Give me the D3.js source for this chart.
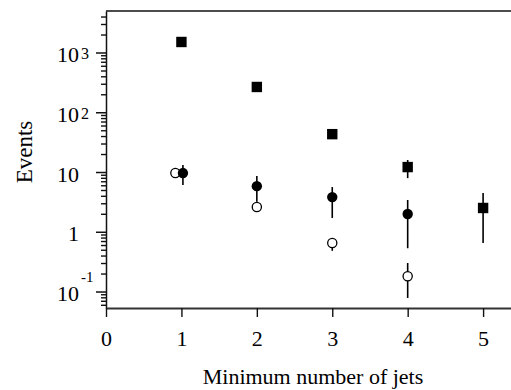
<!DOCTYPE html>
<html>
<head>
<meta charset="utf-8">
<script src="https://cdn.jsdelivr.net/npm/d3@7"></script>
<style>
  body { margin: 0; background: #fff; }
  svg { display: block; font-family: "Liberation Serif", "Times New Roman", serif; }
</style>
</head>
<body>
<div id="chart"></div>
<script>
// x tick values and y decade labels
let xTicks = [0, 1, 2, 3, 4, 5];
let yMajor = [0.1, 1, 10, 100, 1000];
let yLabels = [["10", "-1"], ["1", ""], ["10", ""], ["10", "2"], ["10", "3"]];

// filled squares
let sqX = [1, 2, 3, 4, 5];
let sqY = [1500, 265, 43, 12.1, 2.5];
let sqLo = [null, null, null, 7.9, 0.65];
let sqHi = [null, null, null, 15.9, 4.45];

// filled circles
let fcX = [1.02, 2, 3, 4];
let fcY = [9.6, 5.8, 3.8, 1.98];
let fcLo = [6.06, 3.2, 1.7, 0.53];
let fcHi = [13.1, 8.6, 5.6, 3.4];

// open circles
let ocX = [0.92, 2, 3, 4];
let ocY = [9.6, 2.6, 0.65, 0.18];
let ocLo = [null, 2.14, 0.48, 0.078];
let ocHi = [null, 3.2, 0.75, 0.30];

let width = 511;
let height = 390;
let margins = {top: 11, right: 0, bot: 82, left: 106};
let chartWidth = width - margins.left - margins.right;
let chartHeight = height - margins.top - margins.bot;

let svg = d3.select("#chart")
    .append("svg")
    .attr("width", width)
    .attr("height", height);
let g = svg.append("g")
    .attr("transform", "translate(" + margins.left + "," + margins.top + ")");

let xScale = d3.scaleLinear()
    .domain([0, 5.37])
    .range([0, chartWidth]);
let yScale = d3.scaleLog()
    .domain([0.053, 4950])
    .range([chartHeight, 0]);

// minor ticks 2..9 per decade
let yMinor = [];
[0.01, 0.1, 1, 10, 100, 1000].forEach(function (dec) {
    for (let k = 2; k <= 9; k++) {
        let v = k * dec;
        if (v >= yScale.domain()[0] && v <= yScale.domain()[1]) yMinor.push(v);
    }
});

g.append("g")
    .call(d3.axisLeft(yScale).tickValues(yMinor).tickSize(5).tickSizeOuter(0).tickFormat(""))
    .call(s => s.select(".domain").remove())
    .selectAll("line").attr("stroke", "#111").attr("stroke-width", 1.4);

let yAxis = g.append("g")
    .call(d3.axisLeft(yScale).tickValues(yMajor).tickSize(10).tickSizeOuter(0).tickFormat(""))
    .attr("font-family", null).attr("font-size", null);
yAxis.select(".domain").attr("stroke", "#111").attr("stroke-width", 1.5);
yAxis.selectAll("line").attr("stroke", "#111").attr("stroke-width", 1.5);
yAxis.selectAll(".tick text").remove();
yAxis.selectAll(".tick").each(function (d, i) {
    let t = d3.select(this);
    let lab = yLabels[i];
    t.append("text")
        .attr("x", -27)
        .attr("y", 9)
        .attr("text-anchor", "end")
        .attr("fill", "#000")
        .style("font-size", "22px")
        .text(lab[0]);
    if (lab[1] != "") {
        let neg = lab[1].startsWith("-");
        t.append("text")
            .attr("x", -25)
            .attr("y", neg ? -10 : 6)
            .attr("text-anchor", "start")
            .attr("fill", "#000")
            .style("font-size", neg ? "15px" : "16px")
            .text(lab[1]);
    }
});

// top frame line
g.append("line")
    .attr("x1", 0).attr("x2", chartWidth)
    .attr("y1", 0).attr("y2", 0)
    .attr("stroke", "#111").attr("stroke-width", 1.5);

let xAxis = g.append("g")
    .attr("transform", "translate(0," + chartHeight + ")")
    .call(d3.axisBottom(xScale).tickValues(xTicks).tickFormat(d3.format("d"))
        .tickSize(9).tickSizeOuter(0).tickPadding(13))
    .attr("font-family", null).attr("font-size", null);
xAxis.select(".domain").attr("stroke", "#333").attr("stroke-width", 2.2);
xAxis.selectAll("line").attr("stroke", "#111").attr("stroke-width", 1.4);
xAxis.selectAll("text").attr("fill", "#000").style("font-size", "22px");

// axis titles
svg.append("text")
    .attr("x", 313)
    .attr("y", 384)
    .attr("text-anchor", "middle")
    .style("font-size", "22px")
    .text("Minimum number of jets");
svg.append("text")
    .attr("transform", "translate(32,152) rotate(-90)")
    .attr("text-anchor", "middle")
    .style("font-size", "23px")
    .text("Events");

function series(xs, ys, lo, hi) {
    return xs.map((x, i) => ({x: x, y: ys[i], lo: lo[i], hi: hi[i]}));
}
let squares = series(sqX, sqY, sqLo, sqHi);
let filled = series(fcX, fcY, fcLo, fcHi);
let open = series(ocX, ocY, ocLo, ocHi);

function errorBars(data) {
    g.append("g").selectAll("line")
        .data(data.filter(d => d.lo != null))
        .enter().append("line")
        .attr("x1", d => xScale(d.x)).attr("x2", d => xScale(d.x))
        .attr("y1", d => yScale(d.hi)).attr("y2", d => yScale(d.lo))
        .attr("stroke", "#000").attr("stroke-width", 1.6);
}

errorBars(open);
g.append("g").selectAll("circle")
    .data(open)
    .enter().append("circle")
    .attr("cx", d => xScale(d.x))
    .attr("cy", d => yScale(d.y))
    .attr("r", 4.6)
    .attr("fill", "#fff")
    .attr("stroke", "#000")
    .attr("stroke-width", 1.3);

errorBars(filled);
g.append("g").selectAll("circle")
    .data(filled)
    .enter().append("circle")
    .attr("cx", d => xScale(d.x))
    .attr("cy", d => yScale(d.y))
    .attr("r", 5.2)
    .attr("fill", "#000");

errorBars(squares);
g.append("g").selectAll("rect")
    .data(squares)
    .enter().append("rect")
    .attr("x", d => xScale(d.x) - 5.2)
    .attr("y", d => yScale(d.y) - 5.2)
    .attr("width", 10.4)
    .attr("height", 10.4)
    .attr("fill", "#000");
</script>
</body>
</html>
